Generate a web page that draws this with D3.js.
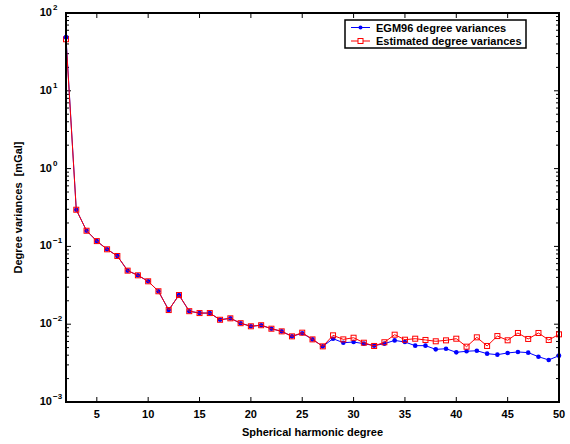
<!DOCTYPE html>
<html>
<head>
<meta charset="utf-8">
<script src="https://cdn.jsdelivr.net/npm/d3@7"></script>
<style>
  body { margin: 0; background: #fff; }
  text { font-family: "Liberation Sans", Arial, sans-serif; font-weight: bold; }
</style>
</head>
<body>
<div id="chart"></div>
<script>
// spherical harmonic degrees 2..50
const degrees = d3.range(2, 51)

const egm96 = [
  48.7, 0.296, 0.159, 0.117, 0.0918, 0.0753, 0.0488, 0.0425, 0.0356, 0.0265,
  0.0152, 0.0237, 0.0147, 0.0139, 0.0139, 0.0114, 0.0119, 0.0103, 0.0094, 0.0097,
  0.00875, 0.00809, 0.00698, 0.00765, 0.00638, 0.00519, 0.00651, 0.00578, 0.0059, 0.00562,
  0.0053, 0.00562, 0.00619, 0.0059, 0.0053, 0.0053, 0.00475, 0.00484, 0.00435, 0.00449,
  0.00456, 0.00418, 0.00406, 0.00427, 0.0044, 0.00431, 0.00382, 0.00347, 0.00394
]

const estimated = [
  46, 0.296, 0.159, 0.117, 0.0918, 0.0753, 0.0488, 0.0425, 0.0356, 0.0265,
  0.0152, 0.0237, 0.0147, 0.0139, 0.0139, 0.0114, 0.0119, 0.0103, 0.0094, 0.0097,
  0.00875, 0.00809, 0.00698, 0.00778, 0.00638, 0.00519, 0.00719, 0.00638, 0.0067, 0.00578,
  0.00525, 0.00586, 0.00733, 0.00632, 0.00651, 0.00627, 0.00603, 0.0062, 0.00651, 0.00514,
  0.00678, 0.00525, 0.00704, 0.00621, 0.00771, 0.00646, 0.00771, 0.00627, 0.00741
]

const xTicks = [5, 10, 15, 20, 25, 30, 35, 40, 45, 50]
const yTickExps = [-3, -2, -1, 0, 1, 2]

const seriesNames = ["EGM96 degree variances", "Estimated degree variances"]

const width = 570,
  height = 444
const margin = { left: 66, right: 11, top: 13, bottom: 42 }

const svg = d3.select("#chart").append("svg").attr("width", width).attr("height", height)

const x = d3.scaleLinear().domain([2, 50]).range([margin.left, width - margin.right])
const y = d3.scaleLog().domain([1e-3, 1e2]).range([height - margin.bottom, margin.top])

const x0 = x.range()[0], x1 = x.range()[1]
const y0 = y.range()[0], y1 = y.range()[1]

// ticks
const g = svg.append("g").attr("stroke", "#000").attr("stroke-width", 1)
xTicks.forEach((t) => {
  g.append("line").attr("x1", x(t)).attr("x2", x(t)).attr("y1", y0).attr("y2", y0 - 5)
  g.append("line").attr("x1", x(t)).attr("x2", x(t)).attr("y1", y1).attr("y2", y1 + 5)
})
yTickExps.forEach((e, i) => {
  const v = Math.pow(10, e)
  g.append("line").attr("x1", x0).attr("x2", x0 + 5).attr("y1", y(v)).attr("y2", y(v))
  g.append("line").attr("x1", x1).attr("x2", x1 - 5).attr("y1", y(v)).attr("y2", y(v))
  if (e < 2) {
    for (let m = 2; m <= 9; m++) {
      const mv = v * m
      g.append("line").attr("x1", x0).attr("x2", x0 + 3).attr("y1", y(mv)).attr("y2", y(mv))
      g.append("line").attr("x1", x1).attr("x2", x1 - 3).attr("y1", y(mv)).attr("y2", y(mv))
    }
  }
})

// tick labels
svg
  .selectAll(".xlab")
  .data(xTicks)
  .enter()
  .append("text")
  .attr("x", (d) => x(d))
  .attr("y", y0 + 16)
  .attr("text-anchor", "middle")
  .style("font-size", "11px")
  .text((d) => d)

yTickExps.forEach((e) => {
  svg
    .append("text")
    .attr("x", x0 - 14)
    .attr("y", y(Math.pow(10, e)) + 3)
    .attr("text-anchor", "end")
    .style("font-size", "11px")
    .text("10")
  svg
    .append("text")
    .attr("x", x0 - 13)
    .attr("y", y(Math.pow(10, e)) - 3)
    .attr("text-anchor", "start")
    .style("font-size", "8px")
    .text(e < 0 ? "\u2212" + -e : e)
})

// lines
const line = d3
  .line()
  .x((d) => x(d[0]))
  .y((d) => y(d[1]))

const blueData = degrees.map((d, i) => [d, egm96[i]])
const redData = degrees.map((d, i) => [d, estimated[i]])

svg.append("path").datum(blueData).attr("d", line).attr("fill", "none").attr("stroke", "#0000ff").attr("stroke-width", 1)
svg
  .selectAll(".bdot")
  .data(blueData)
  .enter()
  .append("circle")
  .attr("cx", (d) => x(d[0]))
  .attr("cy", (d) => y(d[1]))
  .attr("r", 2.3)
  .attr("fill", "#0000ff")

svg.append("path").datum(redData).attr("d", line).attr("fill", "none").attr("stroke", "#ff0000").attr("stroke-width", 1)
svg
  .selectAll(".rsq")
  .data(redData)
  .enter()
  .append("rect")
  .attr("x", (d) => x(d[0]) - 2.5)
  .attr("y", (d) => y(d[1]) - 2.5)
  .attr("width", 5)
  .attr("height", 5)
  .attr("fill", "none")
  .attr("stroke", "#ff0000")
  .attr("stroke-width", 1)

// blue first point sits on top
svg
  .append("circle")
  .attr("cx", x(blueData[0][0]))
  .attr("cy", y(blueData[0][1]))
  .attr("r", 2.3)
  .attr("fill", "#0000ff")

// axes box
svg
  .append("rect")
  .attr("x", x0)
  .attr("y", y1)
  .attr("width", x1 - x0)
  .attr("height", y0 - y1)
  .attr("fill", "none")
  .attr("stroke", "#000")
  .attr("stroke-width", 2)

// legend
const lg = svg.append("g").attr("transform", "translate(345,20)")
lg.append("rect").attr("width", 181).attr("height", 28).attr("fill", "#fff").attr("stroke", "#000").attr("stroke-width", 1.5)
const colors = ["#0000ff", "#ff0000"]
seriesNames.forEach((name, i) => {
  const yy = 7.5 + i * 13.5
  lg.append("line").attr("x1", 6).attr("x2", 25).attr("y1", yy).attr("y2", yy).attr("stroke", colors[i]).attr("stroke-width", 1)
  if (i === 0) {
    lg.append("circle").attr("cx", 15.5).attr("cy", yy).attr("r", 2).attr("fill", colors[i])
  } else {
    lg.append("rect").attr("x", 13).attr("y", yy - 2.5).attr("width", 5).attr("height", 5).attr("fill", "#fff").attr("stroke", colors[i])
  }
  lg.append("text").attr("x", 31).attr("y", yy + 4).style("font-size", "11px").text(name)
})

// axis titles
svg
  .append("text")
  .attr("x", (x0 + x1) / 2)
  .attr("y", 436)
  .attr("text-anchor", "middle")
  .style("font-size", "11px")
  .text("Spherical harmonic degree")

svg
  .append("text")
  .attr("transform", `translate(22,${(y0 + y1) / 2}) rotate(-90)`)
  .attr("text-anchor", "middle")
  .style("font-size", "11px")
  .text("Degree variances\u00a0\u00a0[mGal]")
</script>
</body>
</html>
